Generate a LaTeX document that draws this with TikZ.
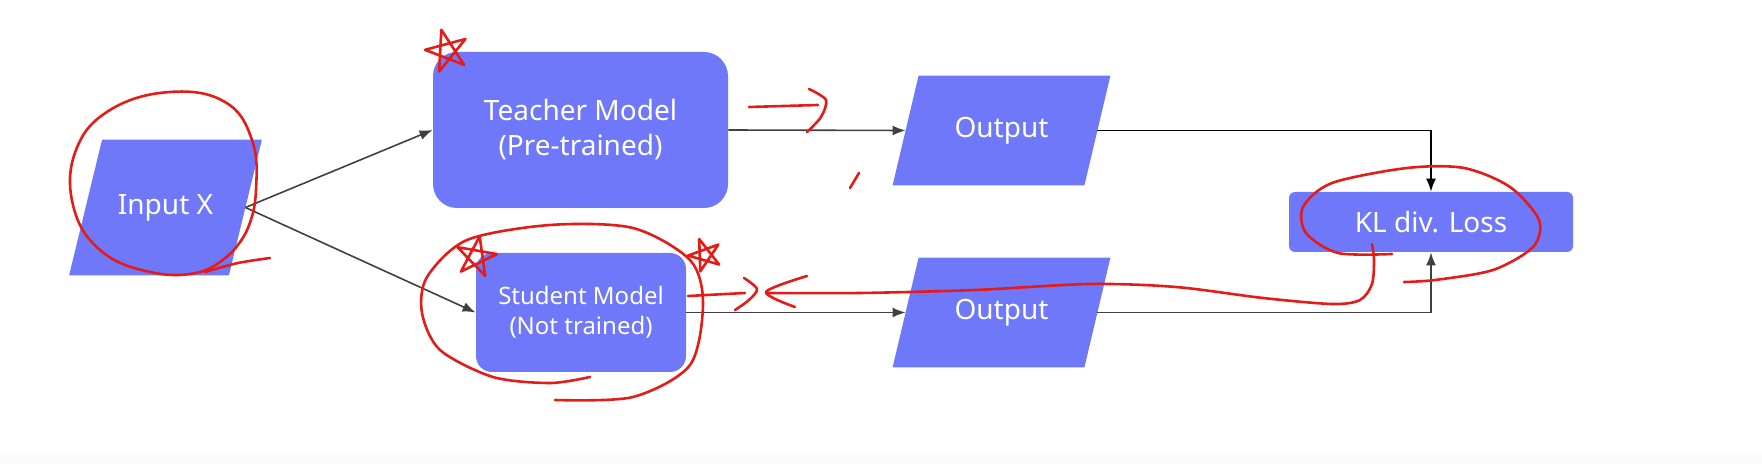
\documentclass[tikz,border=0pt]{standalone}
\usepackage{fontspec}
\setmainfont{Noto Sans}
\usetikzlibrary{arrows.meta}
\definecolor{boxblue}{RGB}{112,120,250}
\definecolor{inkred}{RGB}{228,28,24}
\pgfdeclarelayer{background}
\pgfsetlayers{background,main}
\newcommand{\inkstar}[3]{\draw[ink, shift={(#1)}, rotate=#3] (-90:#2) -- (54:#2) -- (198:#2) -- (-18:#2) -- (126:#2) -- cycle;}

\begin{document}
\begin{tikzpicture}[x=0.5pt, y=-0.5pt,
		every node/.style={text=white, font=\fontsize{14}{17.5}\selectfont, align=center},
		para/.style={rectangle, inner sep=0pt},
		model/.style={rectangle, fill=boxblue, inner sep=0pt},
		conn/.style={draw=black!75, line width=0.8pt, -{Latex[length=6.5pt, width=5pt]}},
		ink/.style={draw=inkred, line width=1.3pt, line cap=round, line join=round}]
\useasboundingbox (0,0) rectangle (1762,464);
\fill[black!1.5] (0,452) rectangle (1762,464);

\node[para, minimum width=79.5pt, minimum height=67.5pt] (input) at (165.5,207.5) {Input X};
\node[model, rounded corners=12pt, minimum width=147.5pt, minimum height=78pt] (teacher) at (580.5,130) {Teacher Model\\(Pre-trained)};
\node[model, rounded corners=8pt, minimum width=105pt, minimum height=59.5pt, font=\fontsize{12}{15}\selectfont] (student) at (581,312.5) {Student Model\\(Not trained)};
\node[para, minimum width=95.5pt, minimum height=54.5pt] (out1) at (1001.5,130.5) {Output};
\node[para, minimum width=95.5pt, minimum height=54.5pt] (out2) at (1001.5,312.5) {Output};
\node[model, rounded corners=3pt, minimum width=142pt, minimum height=30pt] (kl) at (1431,222) {KL div. Loss};

% slanted boxes behind the text
\begin{pgfonlayer}{background}
\foreach \n/\s in {input/8.25, out1/6.5, out2/6.5}
	\fill[boxblue] ([xshift=\s]\n.north west) -- ([xshift=\s]\n.north east) -- ([xshift=-\s]\n.south east) -- ([xshift=-\s]\n.south west) -- cycle;
\end{pgfonlayer}

\draw[conn] (input.east) -- (teacher.west);
\draw[conn] (input.east) -- (student.west);
\draw[conn] (teacher.east) -- (out1.west);
\draw[conn] (student.east) -- (out2.west);
\draw[conn, draw=black] (out1.east) -| (kl.north);
\draw[conn] (out2.east) -| (kl.south);

% red pen marks
\draw[ink] plot[smooth, tension=0.7] coordinates {(232,252) (200,272) (150,272) (100,250) (73,205) (76,150) (110,110) (170,92) (225,102) (252,140) (256,190) (248,228) (232,252)};
\draw[ink] plot[smooth] coordinates {(205,272) (238,263) (270,258)};
\inkstar{447,51}{22}{15}
\inkstar{476,257}{21}{-10}
\inkstar{705,255}{17}{20}
\draw[ink] (749,107) -- (818,105);
\draw[ink] plot[smooth] coordinates {(809,89) (826,100) (821,117) (807,132)};
\draw[ink] (850,188) -- (859,173);
\draw[ink] plot[smooth] coordinates {(555,400) (633,397) (690,365) (703,303) (690,260) (633,228) (550,225) (467,240) (427,277) (422,313) (440,350) (493,377) (550,383) (590,377)};
\draw[ink] (688,296) -- (745,293);
\draw[ink] plot[smooth] coordinates {(744,278) (757,289) (749,300) (735,310)};
\draw[ink] plot[smooth] coordinates {(807,276) (766,292) (795,307)};
\draw[ink] plot[smooth] coordinates {(766,293) (860,293) (975,290) (1090,284) (1176,287) (1263,298) (1332,304) (1360,300) (1372,284) (1374,260) (1372,244)};
\draw[ink] plot[smooth] coordinates {(1392,254) (1338,253) (1306,233) (1303,207) (1332,183) (1407,168) (1464,168) (1510,187) (1539,220) (1533,247) (1493,270) (1435,280) (1404,282)};
\end{tikzpicture}
\end{document}
